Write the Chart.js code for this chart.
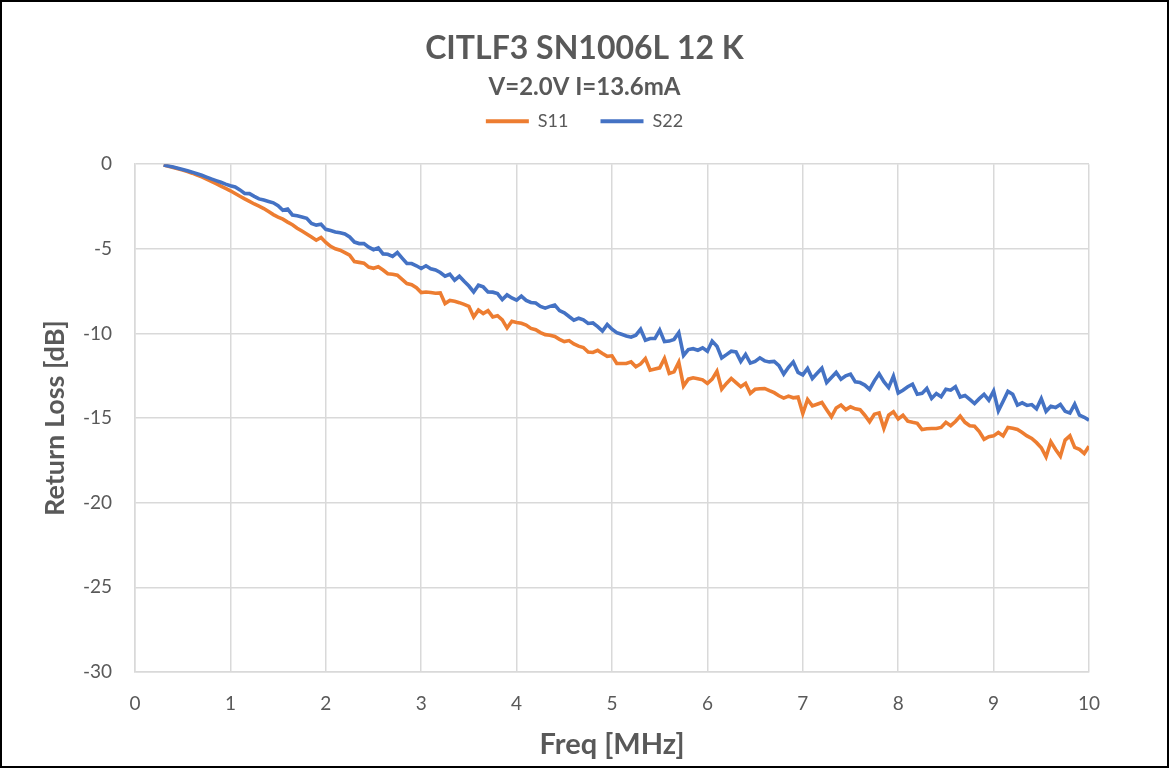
<!DOCTYPE html>
<html>
<head>
<meta charset="utf-8">
<script src="https://cdn.jsdelivr.net/npm/chart.js@4"></script>
<style>
  html, body { margin: 0; padding: 0; background: #fff; }
  #wrap { width: 1169px; height: 768px; box-sizing: border-box; border: 2px solid #000; }
  canvas { display: block; }
</style>
</head>
<body>
<div id="wrap"><canvas id="chart" width="1165" height="764"></canvas></div>
<script>
// sweep: 0.30 .. 10.00 MHz, 0.05 MHz steps (dB)
const FREQ_START = 0.3;
const FREQ_STEP = 0.05;

const s11 = [
  -0.05, -0.12, -0.19, -0.27, -0.35, -0.44, -0.53, -0.64, -0.75, -0.88,
  -1.01, -1.15, -1.29, -1.43, -1.57, -1.73, -1.89, -2.05, -2.2, -2.35,
  -2.48, -2.62, -2.8, -2.98, -3.12, -3.25, -3.42, -3.58, -3.78, -3.95,
  -4.12, -4.3, -4.49, -4.33, -4.62, -4.85, -5.0, -5.08, -5.22, -5.37,
  -5.75, -5.8, -5.85, -6.08, -6.15, -6.06, -6.25, -6.47, -6.5, -6.56,
  -6.8, -7.05, -7.12, -7.3, -7.58, -7.55, -7.58, -7.62, -7.6, -8.23,
  -8.05, -8.1, -8.18, -8.28, -8.4, -9.02, -8.62, -8.82, -8.65, -9.02,
  -8.95, -9.2, -9.68, -9.28, -9.35, -9.4, -9.5, -9.7, -9.78, -9.95,
  -10.07, -10.1, -10.18, -10.35, -10.48, -10.42, -10.62, -10.75, -10.83, -11.1,
  -11.12, -11.0, -11.18, -11.35, -11.32, -11.77, -11.77, -11.77, -11.68, -11.97,
  -11.8, -11.48, -12.17, -12.1, -12.03, -11.48, -12.36, -12.27, -11.7, -13.1,
  -12.7, -12.62, -12.68, -12.74, -12.95, -12.7, -12.23, -13.29, -12.95, -12.66,
  -12.9, -13.15, -12.95, -13.54, -13.3, -13.27, -13.25, -13.38, -13.5, -13.68,
  -13.82, -13.7, -13.8, -13.75, -14.73, -13.9, -14.28, -14.18, -14.08, -14.5,
  -14.92, -14.4, -14.23, -14.5, -14.33, -14.45, -14.5, -14.83, -15.22, -14.77,
  -14.69, -15.61, -14.83, -14.63, -15.05, -14.83, -15.18, -15.25, -15.31, -15.68,
  -15.63, -15.61, -15.61, -15.55, -15.25, -15.45, -15.2, -14.88, -15.25, -15.45,
  -15.48, -15.8, -16.25, -16.1, -16.05, -15.85, -16.05, -15.55, -15.6, -15.67,
  -15.85, -16.05, -16.2, -16.45, -16.75, -17.29, -16.4, -16.85, -17.25, -16.3,
  -16.05, -16.73, -16.85, -17.09, -16.66
];

const s22 = [
  -0.05, -0.11, -0.17, -0.24, -0.31, -0.39, -0.47, -0.56, -0.65, -0.76,
  -0.87, -0.97, -1.07, -1.18, -1.27, -1.34, -1.52, -1.73, -1.74, -1.9,
  -2.05, -2.12, -2.2, -2.28, -2.45, -2.72, -2.65, -3.0, -3.05, -3.12,
  -3.2, -3.5, -3.6, -3.55, -3.85, -3.92, -4.0, -4.05, -4.12, -4.3,
  -4.6, -4.69, -4.69, -4.9, -5.05, -4.95, -5.3, -5.32, -5.45, -5.22,
  -5.55, -5.87, -5.87, -6.0, -6.16, -6.0, -6.18, -6.25, -6.4, -6.62,
  -6.5, -6.85, -6.62, -6.92, -7.2, -7.55, -7.15, -7.25, -7.55, -7.56,
  -7.64, -8.0, -7.72, -7.9, -8.03, -7.8, -8.05, -8.17, -8.2, -8.4,
  -8.5, -8.4, -8.32, -8.65, -8.78, -9.0, -9.21, -9.1, -9.2, -9.41,
  -9.38, -9.6, -9.86, -9.47, -9.75, -9.95, -10.05, -10.15, -10.22, -10.1,
  -9.75, -10.4, -10.3, -10.3, -9.8, -10.48, -10.45, -10.35, -9.95, -11.3,
  -10.95, -10.9, -10.99, -10.85, -11.05, -10.45, -10.75, -11.45, -11.25, -11.05,
  -11.09, -11.65, -11.24, -11.75, -11.65, -11.44, -11.62, -11.68, -11.65, -11.9,
  -12.4, -12.0, -11.68, -12.3, -12.45, -12.07, -12.66, -12.35, -12.05, -12.9,
  -12.6, -12.3, -12.7, -12.5, -12.4, -12.86, -12.9, -13.05, -13.3, -12.8,
  -12.38, -12.85, -13.2, -12.52, -13.52, -13.35, -13.15, -13.0, -13.59, -13.54,
  -13.25, -13.84, -13.55, -13.74, -13.3, -13.35, -13.15, -13.75, -13.66, -13.9,
  -14.14, -13.85, -13.6, -13.94, -13.4, -14.57, -14.0, -13.42, -13.59, -14.23,
  -14.1, -14.25, -14.2, -14.45, -13.85, -14.6, -14.3, -14.38, -14.2, -14.6,
  -14.7, -14.18, -14.83, -14.95, -15.12
];

const freq = s11.map((_, i) => +(FREQ_START + i * FREQ_STEP).toFixed(2));

const TEXT = '#595959';
const GRID = '#D9D9D9';
const FONT = "Lato, 'Open Sans', sans-serif";

const toPoints = vals => vals.map((v, i) => ({ x: freq[i], y: v }));

// empty box between the legend and the plot
const legendGap = {
  id: 'legendGap',
  beforeInit(chart) {
    Chart.layouts.addBox(chart, {
      position: 'top',
      weight: 0,
      fullSize: true,
      options: {},
      width: 0,
      height: 0,
      isHorizontal() { return true; },
      update(maxWidth) { this.width = maxWidth; this.height = 24; },
      draw() {}
    });
  }
};

new Chart(document.getElementById('chart'), {
  type: 'line',
  data: {
    datasets: [
      {
        label: 'S11',
        data: toPoints(s11),
        borderColor: '#ED7D31',
        backgroundColor: '#ED7D31',
        borderWidth: 3.6,
        pointRadius: 0,
        tension: 0,
        order: 1
      },
      {
        label: 'S22',
        data: toPoints(s22),
        borderColor: '#4472C4',
        backgroundColor: '#4472C4',
        borderWidth: 3.6,
        pointRadius: 0,
        tension: 0,
        order: 0
      }
    ]
  },
  options: {
    responsive: false,
    animation: false,
    layout: { padding: 0 },
    scales: {
      x: {
        type: 'linear',
        min: 0,
        max: 10,
        ticks: { stepSize: 1, color: TEXT, padding: 20, font: { family: FONT, size: 19 } },
        grid: { color: GRID, lineWidth: 1.5, drawTicks: false },
        border: { color: GRID, width: 1.5 },
        title: {
          display: true,
          text: 'Freq [MHz]',
          color: TEXT,
          font: { family: FONT, size: 29, weight: 'bold' },
          padding: { top: 0, bottom: 4 }
        },
        afterFit(scale) {
          scale.height = 94;
          scale.paddingRight = 78; // right margin of the plot
        }
      },
      y: {
        min: -30,
        max: 0,
        ticks: { stepSize: 5, color: TEXT, padding: 23, font: { family: FONT, size: 19 } },
        grid: { color: GRID, lineWidth: 1.5, drawTicks: false },
        border: { color: GRID, width: 1.5 },
        title: {
          display: true,
          text: 'Return Loss [dB]',
          color: TEXT,
          font: { family: FONT, size: 27, weight: 'bold' },
          padding: { top: 37, bottom: 0 }
        },
        afterFit(scale) {
          scale.width = 133;
          scale.paddingTop = 162; // plot top
        }
      }
    },
    plugins: {
      title: {
        display: true,
        text: 'CITLF3 SN1006L 12 K',
        color: TEXT,
        font: { family: FONT, size: 32, weight: 'bold' },
        padding: { top: 27, bottom: 0 }
      },
      subtitle: {
        display: true,
        text: 'V=2.0V I=13.6mA',
        color: TEXT,
        font: { family: FONT, size: 24, weight: 'bold' },
        padding: { top: 5, bottom: -21 }
      },
      legend: {
        display: true,
        position: 'top',
        labels: {
          color: TEXT,
          font: { family: FONT, size: 18 },
          boxWidth: 43,
          boxHeight: 4,
          padding: 32,
          sort: (a, b) => a.datasetIndex - b.datasetIndex,
          generateLabels(chart) {
            const items = Chart.defaults.plugins.legend.labels.generateLabels(chart);
            return items.map(it => Object.assign(it, { fillStyle: it.strokeStyle, lineWidth: 0 }));
          }
        }
      },
      tooltip: { enabled: false }
    }
  },
  plugins: [legendGap]
});
</script>
</body>
</html>
